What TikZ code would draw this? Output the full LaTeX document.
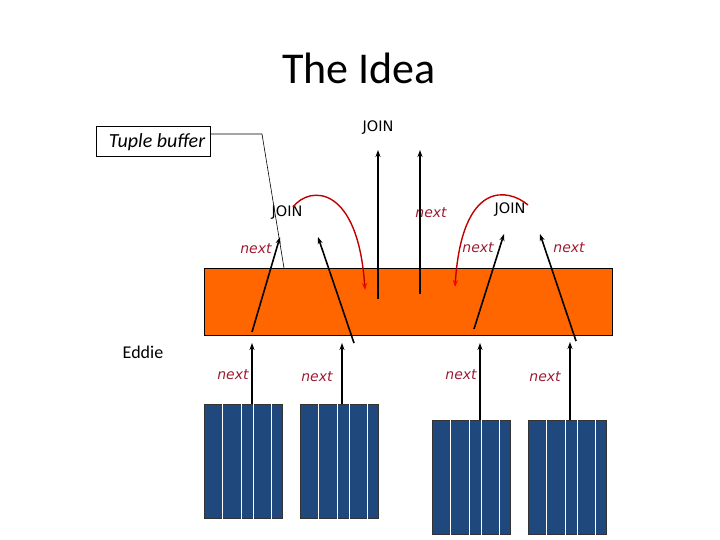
\documentclass[tikz,border=0pt]{standalone}
\usepackage{fontspec}
\setmainfont{Carlito}
\newfontfamily\djv{DejaVu Sans}
\usetikzlibrary{arrows.meta}
\definecolor{orng}{HTML}{FF6600}
\definecolor{tblue}{HTML}{1F497D}
\definecolor{nextred}{HTML}{9E1B32}
\definecolor{curvered}{HTML}{C00000}
\tikzset{
  lbljoin/.style={font=\djv\fontsize{14.5}{16}\selectfont, inner sep=0pt},
  lblnext/.style={font=\djv\itshape\fontsize{14}{16}\selectfont, text=nextred, inner sep=0pt},
  blk/.style={line width=1.6pt, -{Stealth[length=7pt,width=5pt]}},
  redc/.style={line width=1.4pt, curvered, -{Stealth[length=7pt,width=5pt,color=red]}},
  tbl/.style={fill=tblue, draw=black!80, line width=0.6pt},
}
\begin{document}
\begin{tikzpicture}[x=1pt,y=-1pt]
\useasboundingbox (0,0) rectangle (720,540);
% title
\node[font=\fontsize{44}{50}\selectfont, inner sep=0pt] (title) at (359,68) {The Idea};
% orange buffer
\node[draw=black, line width=0.6pt, fill=orng, minimum width=408pt, minimum height=67pt, inner sep=0pt, anchor=north west] (buf) at (204,268) {};
% tuple buffer label
\node[draw=black, line width=0.6pt, minimum width=114pt, minimum height=30pt, inner sep=0pt, anchor=north west] (tb) at (96,126) {};
\node[font=\itshape\fontsize{20}{22}\selectfont, inner sep=0pt] (tbt) at (157,142) {Tuple buffer};
\coordinate (tbk) at (262,134);
\coordinate (tbe) at (284,268);
\draw[line width=0.6pt] (tb.east |- tbk) -- (tbk) -- (tbe);
% Eddie
\node[font=\fontsize{18}{20}\selectfont, inner sep=0pt] (eddie) at (143,352) {Eddie};
% JOIN labels
\node[lbljoin] (j1) at (378,128) {JOIN};
\node[lbljoin] (j2) at (287,213) {JOIN};
\node[lbljoin] (j3) at (510,210) {JOIN};
% next labels
\node[lblnext] (n1) at (256,249) {next};
\node[lblnext] (n2) at (431,213) {next};
\node[lblnext] (n3) at (478,248) {next};
\node[lblnext] (n4) at (569,248) {next};
\node[lblnext] (n5) at (233,375) {next};
\node[lblnext] (n6) at (317,377) {next};
\node[lblnext] (n7) at (461,375) {next};
\node[lblnext] (n8) at (545,377) {next};
% vertical output arrows
\coordinate (v1b) at (378,299); \coordinate (v1t) at (378,150);
\coordinate (v2b) at (420,294); \coordinate (v2t) at (420,150);
\draw[blk] (v1b) -- (v1t);
\draw[blk] (v2b) -- (v2t);
% red curves
\coordinate (r1s) at (293,207); \coordinate (r1e) at (365,290);
\coordinate (r2s) at (528,205); \coordinate (r2e) at (455,287);
\draw[redc] (r1s) .. controls (310,185) and (358,185) .. (r1e);
\draw[redc] (r2s) .. controls (508,188) and (462,180) .. (r2e);
% diagonal arrows
\coordinate (d1b) at (252,332); \coordinate (d1t) at (280,237);
\coordinate (d2b) at (354,343); \coordinate (d2t) at (318,237);
\coordinate (d3b) at (474,329); \coordinate (d3t) at (504,234);
\coordinate (d4b) at (576,341); \coordinate (d4t) at (540,234);
\draw[blk] (d1b) -- (d1t);
\draw[blk] (d2b) -- (d2t);
\draw[blk] (d3b) -- (d3t);
\draw[blk] (d4b) -- (d4t);
% tables
\foreach \nm/\x/\y in {t1/204/404, t2/300/404, t3/432/420, t4/528/420}{
  \node[tbl, minimum width=78pt, minimum height=114pt, inner sep=0pt, anchor=north west] (\nm) at (\x,\y) {};
  \foreach \o in {18,37,49,67}{
    \draw[white, line width=1pt] ([xshift=\o pt]\nm.north west) -- ([xshift=\o pt]\nm.south west);
  }
}
% arrows from tables
\coordinate (a1t) at (252,343); \coordinate (a2t) at (342,343);
\coordinate (a3t) at (480,343); \coordinate (a4t) at (570,342);
\draw[blk] (t1.north -| a1t) -- (a1t);
\draw[blk] (t2.north -| a2t) -- (a2t);
\draw[blk] (t3.north -| a3t) -- (a3t);
\draw[blk] (t4.north -| a4t) -- (a4t);
\end{tikzpicture}
\end{document}
